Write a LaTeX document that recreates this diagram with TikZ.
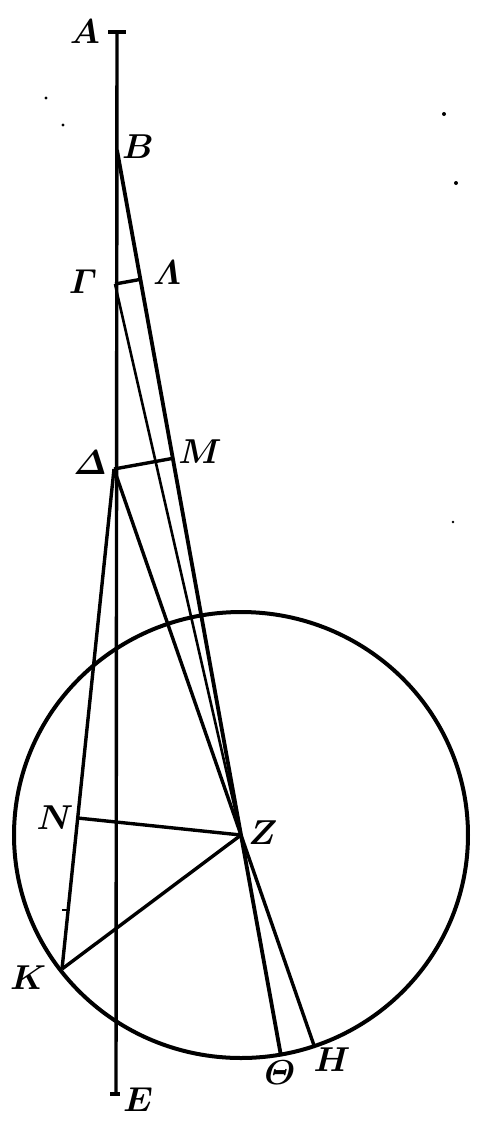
\documentclass[tikz,border=0pt]{standalone}
\usepackage{amsmath,amssymb}
\usepackage{bm}
\usetikzlibrary{calc}

\begin{document}
\begin{tikzpicture}[x=0.5pt,y=-0.5pt,line width=1.7pt,lbl/.style={font=\LARGE,inner sep=0pt}]
\useasboundingbox (0,0) rectangle (484,1132);
\coordinate (A) at (117,32);
\coordinate (E) at (116,1094);
\coordinate (B) at (117,150);
\coordinate (G) at (115,284);
\coordinate (D) at (114,469);
\coordinate (Z) at (241,835);
\coordinate (K) at (62,969);
\coordinate (T) at ($(B)!1.319!(Z)$);
\coordinate (H) at ($(D)!1.573!(Z)$);
\coordinate (L) at ($(B)!(G)!(Z)$);
\coordinate (M) at ($(B)!(D)!(Z)$);
\coordinate (N) at ($(D)!(Z)!(K)$);
\draw[line width=2pt] (Z) ellipse [x radius=113.5pt, y radius=111.5pt];
\draw (A) -- (E);
\draw ([xshift=-4.5pt]A) -- ([xshift=4.5pt]A);
\draw ([xshift=-3pt]E) -- ([xshift=2pt]E);
\draw[line width=1.9pt] (B) -- (T);
\draw[line width=1.3pt] (G) -- (Z);
\draw (D) -- (H);
\draw (G) -- (L);
\draw (D) -- (M);
\draw (D) -- (K);
\draw (N) -- (Z);
\draw (K) -- (Z);
\draw[line width=1pt] (62,910) -- (68,910);
\fill (46,98) circle (0.8pt);
\fill (63,125) circle (0.8pt);
\fill (444,114) circle (1pt);
\fill (456,183) circle (1pt);
\fill (453,522) circle (0.7pt);
\node[lbl] (lA) at (85,32) {$\bm{A}$};
\node[lbl] (lB) at (138,147) {$\bm{B}$};
\node[lbl] (lG) at (83,282) {$\bm{\varGamma}$};
\node[lbl] (lL) at (167,273) {$\bm{\varLambda}$};
\node[lbl] (lD) at (90,463) {$\bm{\varDelta}$};
\node[lbl] (lM) at (200,452) {$\bm{M}$};
\node[lbl] (lN) at (55,818) {$\bm{N}$};
\node[lbl] (lZ) at (263,833) {$\bm{Z}$};
\node[lbl] (lK) at (28,978) {$\bm{K}$};
\node[lbl] (lT) at (280,1073) {$\bm{\varTheta}$};
\node[lbl] (lH) at (332,1060) {$\bm{H}$};
\node[lbl] (lE) at (138,1100) {$\bm{E}$};
\end{tikzpicture}
\end{document}
